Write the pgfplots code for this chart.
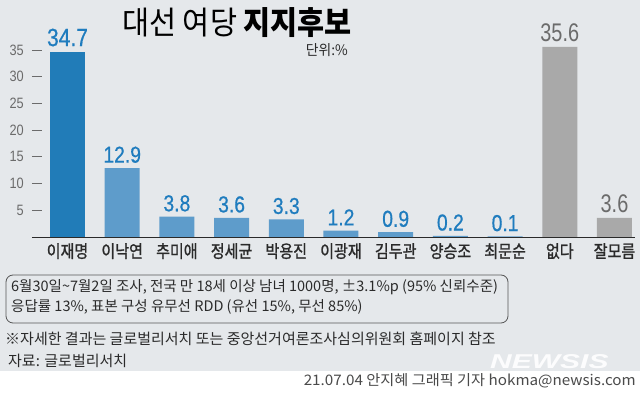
\documentclass[border=0pt]{standalone}
\usepackage{pgfplots}
\pgfplotsset{compat=1.18}
\usepackage{fontspec}
\setmainfont{Noto Sans CJK KR}
\newfontfamily\krt[FakeStretch=0.92]{Noto Sans CJK KR}
\newfontfamily\krc[FakeStretch=0.95]{Noto Sans CJK KR}
\newfontfamily\krf{Noto Sans CJK KR}
\newfontfamily\krw[FakeStretch=1.05]{Noto Sans CJK KR}
\newfontfamily\krl[FakeStretch=0.86,FakeBold=1.2]{Noto Sans CJK KR}
\newfontfamily\numb[FakeStretch=0.84,FakeBold=0.6]{Liberation Sans}
\newfontfamily\numg[FakeStretch=0.78]{Liberation Sans}
\newfontfamily\numt[FakeStretch=0.85]{Liberation Sans}
\newfontfamily\logo[FakeStretch=1.5]{Liberation Sans}
\definecolor{bgc}{HTML}{E5E8EB}
\definecolor{bdark}{HTML}{217CB8}
\definecolor{blight}{HTML}{5E9CCB}
\definecolor{blab}{HTML}{1F7CBE}
\definecolor{gbar}{HTML}{A9A9A9}
\definecolor{glab}{HTML}{6B6B6B}
\definecolor{txt}{HTML}{2A2A2A}
\begin{document}
\begin{tikzpicture}[x=1pt,y=1pt]
\fill[bgc] (0,27) rectangle (640,398);
\fill[white] (0,0) rectangle (640,27);
\useasboundingbox (0,0) rectangle (640,398);
\begin{axis}[
  at={(32pt,161pt)}, anchor=south west,
  scale only axis, width=603pt, height=197.7pt,
  xmin=-0.649, xmax=10.375, ymin=0, ymax=37,
  enlargelimits=false, clip=false,
  axis x line*=bottom, axis y line*=left,
  x axis line style={draw=txt, line width=0.8pt, -},
  y axis line style={draw=none},
  ytick={5,10,15,20,25,30,35},
  ytick pos=left, ytick align=inside,
  major tick length=10pt,
  y tick style={draw=glab, line width=0.8pt},
  yticklabel style={anchor=east, inner sep=0pt, xshift=-8pt, text=glab, font=\numt\fontsize{15}{15}\selectfont},
  /pgf/number format/assume math mode=true,
  xtick={0,1,2,3,4,5,6,7,8,9,10},
  xticklabels={이재명,이낙연,추미애,정세균,박용진,이광재,김두관,양승조,최문순,없다,잘모름},
  x tick style={draw=none},
  xticklabel style={anchor=north, inner sep=0pt, yshift=-6pt, text=txt, font=\krl\fontsize{17.5}{17.5}\selectfont},
  point meta=explicit symbolic,
  nodes near coords,
]
\addplot[ybar, bar width=35pt, bar shift=0pt, fill=bdark, draw=none,
  every node near coord/.style={anchor=south, inner sep=0pt, yshift=5pt, text=blab, font=\numb\fontsize{25}{25}\selectfont}]
  coordinates {(0,34.7) [34.7]};
\addplot[ybar, bar width=35pt, bar shift=0pt, fill=blight, draw=none,
  every node near coord/.style={anchor=south, inner sep=0pt, yshift=5pt, text=blab, font=\numb\fontsize{23}{23}\selectfont}]
  coordinates {(1,12.9) [12.9] (2,3.8) [3.8] (3,3.6) [3.6] (4,3.3) [3.3] (5,1.2) [1.2] (6,0.9) [0.9] (7,0.2) [0.2] (8,0.1) [0.1]};
\addplot[ybar, bar width=35pt, bar shift=0pt, fill=gbar, draw=none,
  every node near coord/.style={anchor=south, inner sep=0pt, yshift=5pt, text=glab, font=\numg\fontsize{25.5}{25.5}\selectfont}]
  coordinates {(9,35.6) [35.6] (10,3.6) [3.6]};
\end{axis}
% title
\node[anchor=west, inner sep=0pt, text=black] at (122,375) {\krt\fontsize{32}{32}\selectfont 대선 여당 {\bfseries 지지후보}};
\node[anchor=east, inner sep=0pt, text=txt] at (348,348) {\krc\fontsize{14.5}{14.5}\selectfont 단위:\%};
% footnote box
\draw[draw=txt!80, line width=0.8pt, rounded corners=7pt] (6,123) rectangle (508,75);
\node[anchor=west, inner sep=0pt, text=txt] at (11,110.5) {\krf\fontsize{14.5}{14.5}\selectfont 6월30일\char"7E\relax 7월2일 조사, 전국 만 18세 이상 남녀 1000명, ±3.1\%p (95\% 신뢰수준)};
\node[anchor=west, inner sep=0pt, text=txt] at (11,91.5) {\krf\fontsize{14.5}{14.5}\selectfont 응답률 13\%, 표본 구성 유무선 \textit{RDD} (유선 15\%, 무선 85\%)};
\node[anchor=west, inner sep=0pt, text=txt] at (5,59.5) {\krf\fontsize{15}{15}\selectfont ※자세한 결과는 글로벌리서치 또는 중앙선거여론조사심의위원회 홈페이지 참조};
\node[anchor=west, inner sep=0pt, text=txt] at (8,37) {\krf\fontsize{15}{15}\selectfont 자료: 글로벌리서치};
% logo & credit
\node[anchor=west, inner sep=0pt, text=white, opacity=0.9] at (490,36) {\logo\bfseries\itshape\fontsize{20}{20}\selectfont NEWSIS};
\node[anchor=east, inner sep=0pt, text=txt!85] at (636,17) {\krw\fontsize{14.5}{14.5}\selectfont 21.07.04 안지혜 그래픽 기자 hokma@newsis.com};
\end{tikzpicture}
\end{document}
